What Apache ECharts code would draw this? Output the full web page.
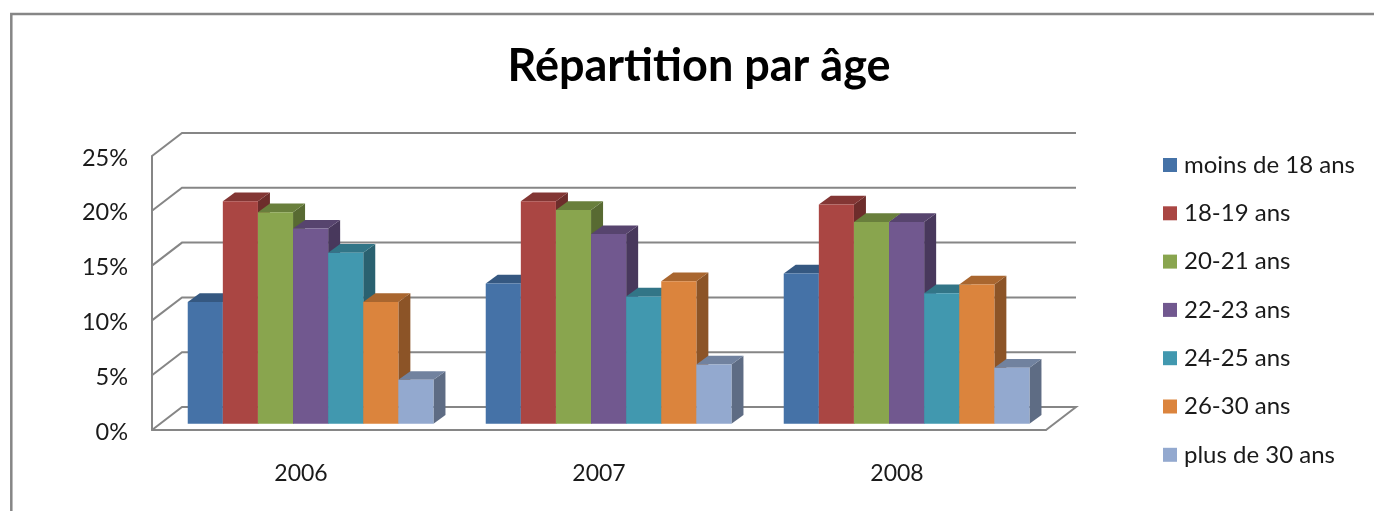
<!DOCTYPE html>
<html>
<head>
<meta charset="utf-8">
<title>Répartition par âge</title>
<script src="https://cdn.jsdelivr.net/npm/echarts@6/dist/echarts.min.js"></script>
<style>
  html, body { margin: 0; padding: 0; background: #fff; }
  #main { width: 1374px; height: 511px; }
</style>
</head>
<body>
<div id="main"></div>
<script>
const years = ['2006', '2007', '2008'];
const ageGroups = ['moins de 18 ans', '18-19 ans', '20-21 ans', '22-23 ans', '24-25 ans', '26-30 ans', 'plus de 30 ans'];
const colors = ['#4572A7', '#AA4643', '#89A54E', '#71588F', '#4198AF', '#DB843D', '#93A9CF'];
const under18 = [11.1, 12.8, 13.7];
const age18to19 = [20.3, 20.3, 20.0];
const age20to21 = [19.3, 19.5, 18.4];
const age22to23 = [17.8, 17.3, 18.4];
const age24to25 = [15.6, 11.6, 11.9];
const age26to30 = [11.1, 13.0, 12.7];
const over30 = [4.0, 5.4, 5.1];
const yTicks = [0, 5, 10, 15, 20, 25];

const seriesValues = [under18, age18to19, age20to21, age22to23, age24to25, age26to30, over30];

// fake 3D : profondeur du mur et des barres, en pixels
const wallDx = 30, wallDy = -23;
const barDx = 12, barDy = -8.7;
const planeDx = 9.6, planeDy = -6.3;
const slotRatio = 0.1178;
const wallColor = '#868686';

function shade(color, factor) {
  const c = echarts.color.parse(color);
  return 'rgb(' + Math.round(c[0] * factor) + ',' + Math.round(c[1] * factor) + ',' + Math.round(c[2] * factor) + ')';
}

function renderWall(params, api) {
  const p = api.coord([0, api.value(1)]);
  const catW = api.size([1, 0])[0];
  const left = p[0] - catW / 2;
  const right = left + catW * years.length;
  const points = [[left, p[1]], [left + wallDx, p[1] + wallDy], [right + wallDx, p[1] + wallDy]];
  if (api.value(1) === 0) points.push([right, p[1]]);
  return {
    type: 'polyline',
    shape: { points },
    style: { stroke: wallColor, lineWidth: 2, fill: null }
  };
}

function renderBar(index) {
  return function (params, api) {
    const top = api.coord([api.value(0), api.value(1)]);
    const base = api.coord([api.value(0), 0]);
    const w = api.size([1, 0])[0] * slotRatio;
    const x0 = base[0] + planeDx + (index - ageGroups.length / 2) * w;
    const x1 = x0 + w;
    const yTop = top[1] + planeDy;
    const yBase = base[1] + planeDy;
    const color = colors[index];
    return {
      type: 'group',
      children: [
        {
          type: 'polygon',
          shape: { points: [[x1, yBase], [x1 + barDx, yBase + barDy], [x1 + barDx, yTop + barDy], [x1, yTop]] },
          style: { fill: shade(color, 0.64) }
        },
        {
          type: 'polygon',
          shape: { points: [[x0, yTop], [x0 + barDx, yTop + barDy], [x1 + barDx, yTop + barDy], [x1, yTop]] },
          style: { fill: shade(color, 0.77) }
        },
        {
          type: 'rect',
          shape: { x: x0, y: yTop, width: w, height: yBase - yTop },
          style: { fill: color }
        }
      ]
    };
  };
}

const chart = echarts.init(document.getElementById('main'), null, { renderer: 'canvas' });

const textFont = 'Lato, "Open Sans", sans-serif';

chart.setOption({
  animation: false,
  backgroundColor: '#fff',
  title: {
    text: 'Répartition par âge',
    left: 694,
    top: 39,
    textAlign: 'center',
    textStyle: { fontFamily: textFont, fontSize: 45, fontWeight: 'bold', color: '#000' }
  },
  graphic: [{
    type: 'polyline',
    shape: { points: [[11.3, 511], [11.3, 14], [1374, 14]] },
    style: { stroke: wallColor, lineWidth: 2.5, fill: null }
  }],
  legend: {
    orient: 'vertical',
    left: 1158,
    top: 148,
    icon: 'rect',
    itemWidth: 14,
    itemHeight: 14,
    itemGap: 24.3,
    data: ageGroups,
    textStyle: { fontFamily: textFont, fontSize: 24, color: '#1a1a1a', padding: [0, 0, 0, 2] }
  },
  grid: { left: 152, top: 156, width: 894, height: 274 },
  xAxis: {
    type: 'category',
    data: years,
    axisLine: { show: true, lineStyle: { color: wallColor, width: 2 } },
    axisTick: { show: false },
    axisLabel: { margin: 32, fontFamily: textFont, fontSize: 23, color: '#1a1a1a' }
  },
  yAxis: {
    type: 'value',
    min: 0,
    max: 25,
    interval: 5,
    axisLine: { show: true, lineStyle: { color: wallColor, width: 2 } },
    axisTick: { show: false },
    splitLine: { show: false },
    axisLabel: {
      margin: 24,
      formatter: '{pct|{value}%}',
      rich: { pct: { fontFamily: textFont, fontSize: 23.5, color: '#1a1a1a', padding: [4, 0, 0, 0] } }
    }
  },
  series: [
    {
      name: 'murs',
      type: 'custom',
      silent: true,
      z: 1,
      renderItem: renderWall,
      encode: { x: 0, y: 1 },
      data: yTicks.map(v => [0, v])
    }
  ].concat(ageGroups.map((name, i) => ({
    name,
    type: 'custom',
    z: 2,
    renderItem: renderBar(i),
    encode: { x: 0, y: 1 },
    itemStyle: { color: colors[i] },
    data: seriesValues[i].map((v, c) => [c, v])
  })))
});
</script>
</body>
</html>
